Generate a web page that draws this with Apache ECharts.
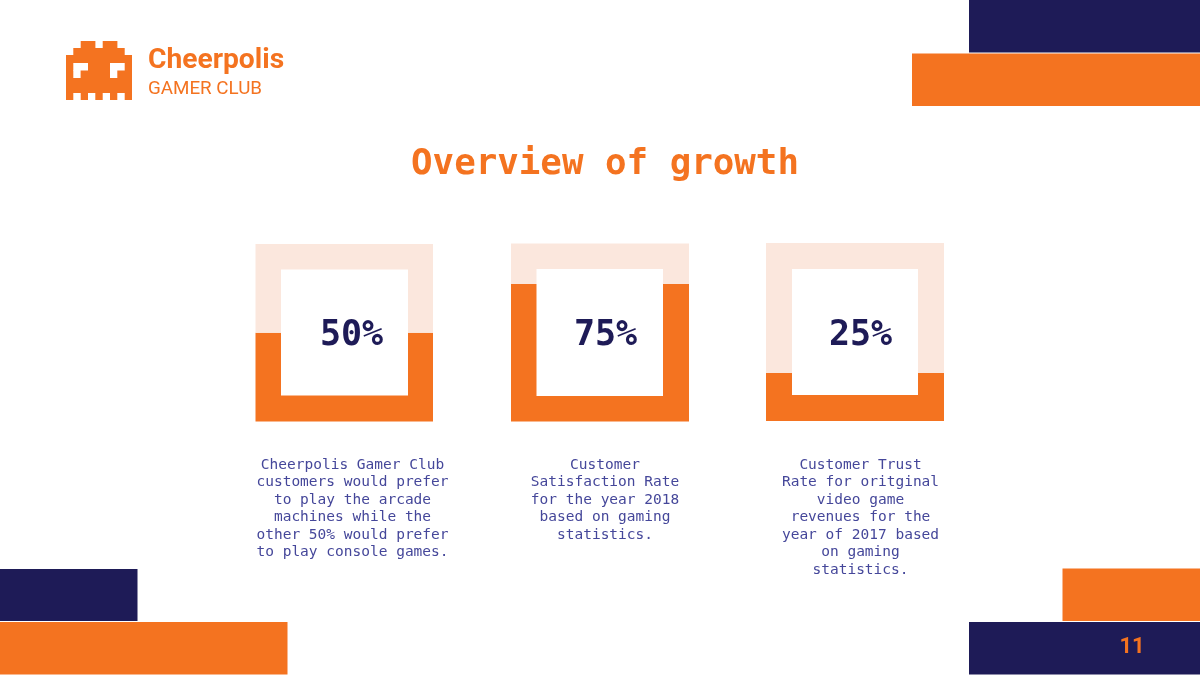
<!DOCTYPE html>
<html><head><meta charset="utf-8">
<style>html,body{margin:0;padding:0;background:#fff}#c{width:1200px;height:675px}</style>
<script src="https://cdn.jsdelivr.net/npm/echarts@6/dist/echarts.min.js"></script>
</head><body><div id="c"></div>
<script>
const categories = ['Arcade preference', 'Satisfaction 2018', 'Trust 2017'];
const percentLabels = ['50%', '75%', '25%'];
const filled = [50, 77.3, 27];
const remainder = [50, 22.7, 73];
const captions = [
  ['Cheerpolis Gamer Club','customers would prefer','to play the arcade','machines while the','other 50% would prefer','to play console games.'],
  ['Customer','Satisfaction Rate','for the year 2018','based on gaming','statistics.'],
  ['Customer Trust','Rate for oritginal','video game','revenues for the','year of 2017 based','on gaming','statistics.']
];
const ORANGE='#F47320', NAVY='#1E1B57', PALE='#FBE7DD', BODY='#45479A';
const MONO='"DejaVu Sans Mono", monospace';
const boxes=[{x:255.5,y:244,s:177.5,ix:281,iy:269.5,iw:127,ih:126,cx:351.5,cap:352.5},
             {x:511,y:243.5,s:178,ix:536.5,iy:269,iw:126.5,ih:127,cx:605.5,cap:605},
             {x:766,y:243,s:178,ix:792,iy:269,iw:126,ih:126,cx:860.5,cap:860.5}];
const rect=(x,y,w,h,fill,z)=>({type:'rect',shape:{x,y,width:w,height:h},style:{fill},z:z||5,silent:true});
const txt=(x,y,text,font,fill,align)=>({type:'text',x,y,z:20,silent:true,style:{text,font,fill,align:align||'center',verticalAlign:'middle'}});
const g=[
  rect(969,0,231,52.5,NAVY),rect(912,53.5,288,52.5,ORANGE),
  rect(0,569,137.5,52,NAVY),rect(0,622,287.5,52.5,ORANGE),
  rect(1062.5,568.5,137.5,52.5,ORANGE),rect(969,622,231,52.5,NAVY),
  // logo
  rect(80.7,41,14.7,8,ORANGE),rect(102.7,41,14.7,8,ORANGE),
  rect(73.3,48,51.4,8,ORANGE),rect(66,55,66,38,ORANGE),
  rect(66,92.5,7.3,7.5,ORANGE),rect(80.7,92.5,7.3,7.5,ORANGE),rect(95.3,92.5,7.4,7.5,ORANGE),rect(110,92.5,7.3,7.5,ORANGE),rect(124.7,92.5,7.3,7.5,ORANGE),
  rect(73.3,63,14.7,7.5,'#fff',6),rect(73.3,70,7.3,8,'#fff',6),
  rect(110,63,14.7,7.5,'#fff',6),rect(110,70,7.3,8,'#fff',6),
  txt(148,60.5,'Cheerpolis','bold 28.2px Roboto',ORANGE,'left'),
  txt(148,89,'GAMER CLUB','18.8px Roboto',ORANGE,'left'),
  txt(605,165,'Overview of growth','bold 35.8px '+MONO,ORANGE),
  txt(1132,647.5,'11','bold 22px Roboto',ORANGE)
];
boxes.forEach((b,i)=>{
  g.push(rect(b.ix,b.iy,b.iw,b.ih,'#fff',10));
  g.push(txt(b.cx,336,percentLabels[i],'bold 35px '+MONO,NAVY));
  captions[i].forEach((l,k)=>g.push(txt(b.cap,465+k*17.5,l,'14.5px '+MONO,BODY)));
});
const option={
  animation:false,
  backgroundColor:'#fff',
  grid:boxes.map(b=>({left:b.x,top:b.y,width:b.s,height:b.s,containLabel:false})),
  xAxis:boxes.map((b,i)=>({type:'category',gridIndex:i,data:[categories[i]],show:false})),
  yAxis:boxes.map((b,i)=>({type:'value',gridIndex:i,min:0,max:100,show:false})),
  series:boxes.flatMap((b,i)=>[
    {type:'bar',name:'filled',stack:'s'+i,xAxisIndex:i,yAxisIndex:i,barWidth:'100%',data:[filled[i]],itemStyle:{color:ORANGE},silent:true},
    {type:'bar',name:'rest',stack:'s'+i,xAxisIndex:i,yAxisIndex:i,barWidth:'100%',data:[remainder[i]],itemStyle:{color:PALE},silent:true}
  ]),
  graphic:{elements:g}
};
echarts.init(document.getElementById('c'),null,{renderer:'canvas'}).setOption(option);
</script></body></html>
